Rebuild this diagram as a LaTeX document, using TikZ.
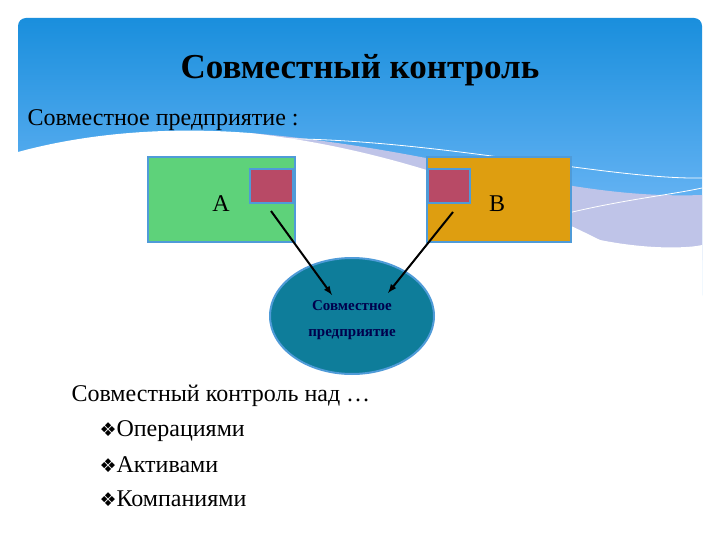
\documentclass[tikz,border=0pt]{standalone}
\usepackage{fontspec}
\usetikzlibrary{shapes.geometric}
\setmainfont{Liberation Serif}
\newfontfamily\dejavu{DejaVu Sans}
\definecolor{gA}{HTML}{5ED27A}
\definecolor{oB}{HTML}{DE9E10}
\definecolor{pk}{HTML}{B84A66}
\definecolor{el}{HTML}{0E7D9A}
\definecolor{bd}{HTML}{4F9BD8}
\begin{document}
\begin{tikzpicture}[x=1pt,y=-1pt,
  box/.style={draw=bd,line width=1.5pt,inner sep=0},
  arr/.style={-latex,line width=2pt},
  big/.style={font=\fontsize{24}{28}\selectfont}]
\useasboundingbox (0,0) rectangle (720,540);
\fill[white] (0,0) rectangle (720,540);
% header
\shade[top color=cyan!60!blue!85!black!90, bottom color=cyan!50!blue!45, rounded corners=8pt]
  (18,200) -- (18,18) -- (702,18) -- (702,300) [sharp corners] -- (702,200) -- cycle;
\fill[cyan!30!blue!25!white]
  (250,133) .. controls (450,150) and (560,200) .. (702,195) -- (702,260) -- (600,260) -- cycle;
\fill[white] (18,152) .. controls (80,135) and (160,126) .. (250,133)
  .. controls (400,150) and (520,200) .. (600,240) .. controls (650,250) and (690,248) .. (702,245) -- (702,300) -- (18,300) -- cycle;
\draw[white,line width=0.8pt] (230,140) .. controls (400,130) and (600,180) .. (702,178);
\draw[white,line width=0.8pt] (560,215) .. controls (620,200) and (670,195) .. (702,188);
\node[font=\bfseries\fontsize{35}{40}\selectfont] (title) at (360,70) {Совместный контроль};
\node[anchor=west,big] (sub) at (24,120) {Совместное предприятие :};
% boxes
\path[box,fill=gA] (148,157) rectangle (295,242);
\path[box,fill=oB] (427,157) rectangle (571,242);
\path[box,fill=pk] (250,169) rectangle (293,203);
\path[box,fill=pk] (428,169) rectangle (470,203);
\node[big] (A) at (221,204) {A};
\node[big] (B) at (497,204) {B};
\coordinate (pa) at (271,211);
\coordinate (pb) at (453,212);
\node[ellipse,draw=bd,line width=2pt,fill=el,minimum width=164pt,minimum height=116pt] (jv) at (352,316) {};
\node[align=center,font=\bfseries\fontsize{15}{26}\selectfont,text=blue!30!black] (jvt) at (352,320) {Совместное\\предприятие};
\coordinate (ea) at (332,295);
\coordinate (eb) at (388,293);
\draw[arr] (pa) -- (ea);
\draw[arr] (pb) -- (eb);
% list
\node[anchor=west,big] (l0) at (68,396) {Совместный контроль над …};
\node[anchor=west,big] (l1) at (96,431) {{\dejavu\fontsize{19}{22}\selectfont ❖}Операциями};
\node[anchor=west,big] (l2) at (96,465) {{\dejavu\fontsize{19}{22}\selectfont ❖}Активами};
\node[anchor=west,big] (l3) at (96,499) {{\dejavu\fontsize{19}{22}\selectfont ❖}Компаниями};
\end{tikzpicture}
\end{document}
